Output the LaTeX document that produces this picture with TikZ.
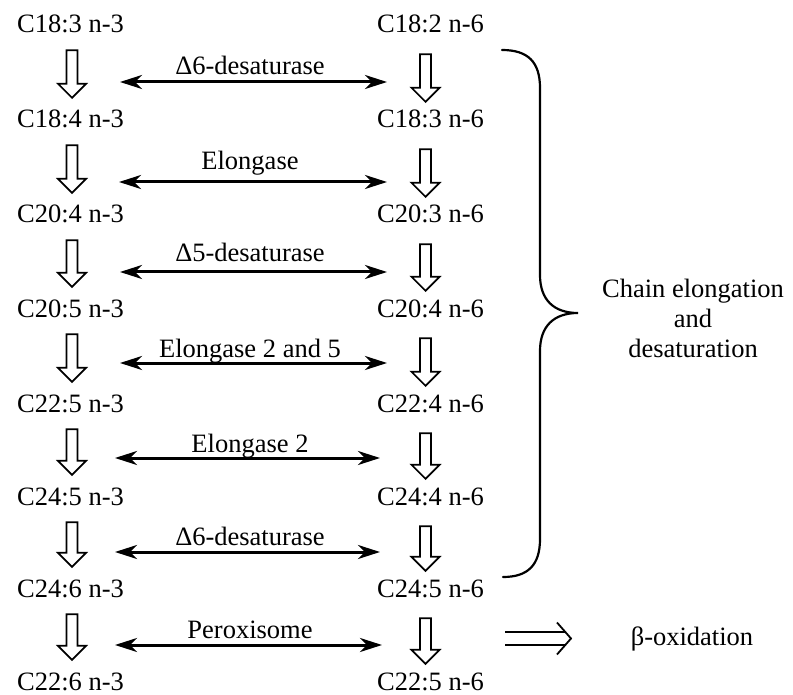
\documentclass[tikz,border=0pt]{standalone}
\usepackage{fontspec}
\setmainfont{Liberation Serif}
\usetikzlibrary{arrows.meta,calc}

% hollow block arrow pointing down, from below node #1 to above node #2
% #3: x offset from the west side of #1, #4: gap under #1, #5: gap above #2
\newcommand\blockdown[5]{%
  \draw[hollow] let \p1=($(#1.south west)+(#3,0)$), \p2=(#2.north) in
    (\x1-5.5pt,\y1-#4) -- (\x1-5.5pt,\y2+#5+14pt) -- (\x1-14pt,\y2+#5+14pt)
    -- (\x1,\y2+#5) -- (\x1+14pt,\y2+#5+14pt) -- (\x1+5.5pt,\y2+#5+14pt)
    -- (\x1+5.5pt,\y1-#4) -- cycle;}

\begin{document}
\begin{tikzpicture}[x=1pt,y=-1pt,
  txt/.style={inner sep=0pt, font=\fontsize{26.5}{30}\selectfont},
  acid/.style={txt, anchor=base west, text height=15pt, text depth=0pt},
  enzyme/.style={txt, anchor=base},
  hollow/.style={draw=black, fill=white, line width=1.7pt, line join=miter},
  biarrow/.style={line width=3pt,
    {Stealth[length=22pt,width=14pt,inset=7pt]}-{Stealth[length=22pt,width=14pt,inset=7pt]}},
  bracestyle/.style={line width=2.2pt, line cap=round},
  implies/.style={line width=1.8pt},
]
\fill[white] (0,0) rectangle (793,695);
\useasboundingbox (0,0) rectangle (793,695);

% fatty acid columns: n-3 on the left, n-6 on the right
\foreach \i/\yb/\lt/\rt in {
    1/33/C18:3 n-3/C18:2 n-6,
    2/128/C18:4 n-3/C18:3 n-6,
    3/223/C20:4 n-3/C20:3 n-6,
    4/317/C20:5 n-3/C20:4 n-6,
    5/412/C22:5 n-3/C22:4 n-6,
    6/505/C24:5 n-3/C24:4 n-6,
    7/597/C24:6 n-3/C24:5 n-6,
    8/690/C22:6 n-3/C22:5 n-6}{
  \node[acid] (L\i) at (17,\yb) {\lt};
  \node[acid] (R\i) at (377,\yb) {\rt};
}

% conversion steps
\foreach \i [evaluate=\i as \j using int(\i+1)] in {1,...,7}{
  \blockdown{L\i}{L\j}{55}{17pt}{15pt}
  \blockdown{R\i}{R\j}{48.5}{21pt}{11pt}
}

% enzymes acting on both series
\foreach \k/\ya/\xa/\xb/\yl/\name in {
    1/82/120/387/75/Δ6-desaturase,
    2/182/119/387/170/Elongase,
    3/272/120/387/262/Δ5-desaturase,
    4/363/120/387/357/Elongase 2 and 5,
    5/458/115/380/452/Elongase 2,
    6/552/115/380/545/Δ6-desaturase,
    7/645/115/382/638/Peroxisome}{
  \coordinate (E\k a) at (\xa,\ya);
  \coordinate (E\k b) at (\xb,\ya);
  \draw[biarrow] (E\k a) -- (E\k b);
  \node[enzyme] (N\k) at (250,\yl) {\name};
}

% brace over the elongation and desaturation steps
\coordinate (btop) at (502,50);
\coordinate (btip) at (578,313);
\coordinate (bbot) at (503,577);
\draw[bracestyle] (btop) .. controls (528,50) and (540,62) .. (540,88)
  -- (540,275) .. controls (540,300) and (554,313) .. (btip)
  .. controls (554,313) and (540,326) .. (540,351)
  -- (540,539) .. controls (540,565) and (528,577) .. (bbot);
\node[txt, align=center, anchor=center] (chain) at (693,318)
  {Chain elongation\\and\\desaturation};

% retroconversion leads to beta-oxidation
\node[enzyme] (beta) at (692,645) {β-oxidation};
\coordinate (dstart) at (505,638.5);
\coordinate (dend) at (571,638.5);
\draw[implies] ($(dstart)+(0,-6.5)$) -- ($(dend)+(-6,-6.5)$);
\draw[implies] ($(dstart)+(0,6.5)$) -- ($(dend)+(-6,6.5)$);
\draw[implies, line join=miter] ($(dend)+(-14,-16)$) -- (dend) -- ($(dend)+(-14,16)$);
\end{tikzpicture}
\end{document}
